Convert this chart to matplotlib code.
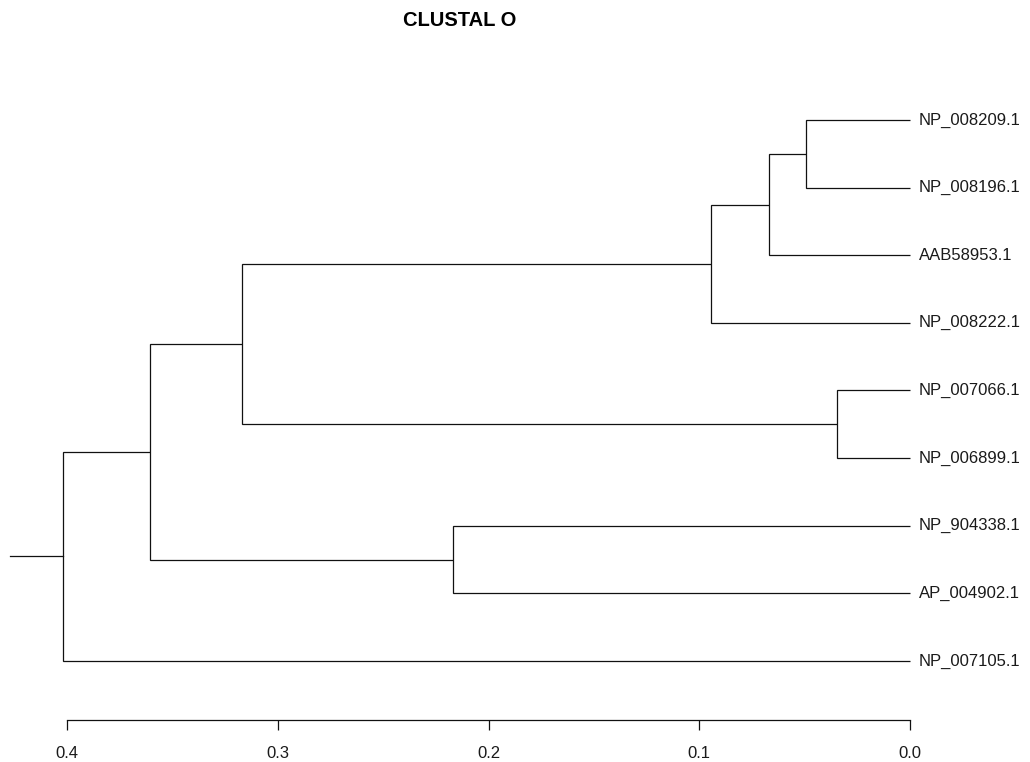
import matplotlib
matplotlib.use("Agg")
import matplotlib.pyplot as plt

# Leaves, top to bottom
LEAVES = [
    "NP_008209.1", "NP_008196.1", "AAB58953.1", "NP_008222.1",
    "NP_007066.1", "NP_006899.1", "NP_904338.1", "AP_004902.1",
    "NP_007105.1",
]

# Merges: (left child, right child, height); children are leaf names or node ids
MERGES = {
    "n1": ("NP_008209.1", "NP_008196.1", 0.0494),
    "n2": ("n1", "AAB58953.1", 0.0669),
    "n3": ("n2", "NP_008222.1", 0.0944),
    "n4": ("NP_007066.1", "NP_006899.1", 0.0346),
    "n5": ("n3", "n4", 0.3170),
    "n6": ("NP_904338.1", "AP_004902.1", 0.2168),
    "n7": ("n5", "n6", 0.3604),
    "n8": ("n7", "NP_007105.1", 0.4020),
}
ROOT = "n8"
ROOT_EDGE = 0.025

TICKS = [0.0, 0.1, 0.2, 0.3, 0.4]
TITLE = "CLUSTAL O"

plt.rcParams["font.family"] = ["Liberation Sans", "DejaVu Sans"]

fig = plt.figure(figsize=(10.30, 7.62), dpi=100)
W, H = 1030, 762
# pixel layout: x=0.4 at 67px, x=0.0 at 910px; leaves at 120px .. 661px; axis at 720px
px_per_unit = (910 - 67) / 0.4
step = (661 - 120) / 8
ax_left, ax_right, ax_top, ax_bottom = 0, W, 60, 720
ax = fig.add_axes([ax_left / W, 1 - ax_bottom / H,
                   (ax_right - ax_left) / W, (ax_bottom - ax_top) / H])
ax.set_xlim(0.0 + (910 - ax_left) / px_per_unit, 0.0 - (ax_right - 910) / px_per_unit)
ax.set_ylim((ax_bottom - 120) / step, (ax_top - 120) / step)

ypos = {name: i for i, name in enumerate(LEAVES)}
hpos = {name: 0.0 for name in LEAVES}

lc = "#111111"
lw = 0.9


def place(node):
    if node in ypos:
        return ypos[node], hpos[node]
    a, b, h = MERGES[node]
    ya, ha = place(a)
    yb, hb = place(b)
    ax.plot([ha, h, h, hb], [ya, ya, yb, yb], color=lc, lw=lw,
            solid_joinstyle="miter", solid_capstyle="butt")
    ypos[node] = (ya + yb) / 2
    hpos[node] = h
    return ypos[node], h


yr, hr = place(ROOT)
ax.plot([hr, hr + ROOT_EDGE], [yr, yr], color=lc, lw=lw)

for i, name in enumerate(LEAVES):
    ax.annotate(name, (0.0, i), xytext=(6.5, 0), textcoords="offset points",
                va="center", ha="left", fontsize=12, color="#1a1a1a")

for s in ["top", "left", "right"]:
    ax.spines[s].set_visible(False)
ax.spines["bottom"].set_bounds(0.0, 0.4)
ax.spines["bottom"].set_linewidth(lw)
ax.spines["bottom"].set_color(lc)
ax.set_xticks(TICKS)
ax.set_xticklabels([f"{t:.1f}" for t in TICKS])
ax.tick_params(axis="x", length=7.2, width=lw, color=lc, pad=11.5,
               labelsize=12, labelcolor="#1a1a1a")
ax.set_yticks([])

fig.text(460 / W, 1 - 21 / H, TITLE, ha="center", va="center",
         fontsize=14.5, fontweight="bold", color="black")

fig.savefig("out.png", dpi=100)
